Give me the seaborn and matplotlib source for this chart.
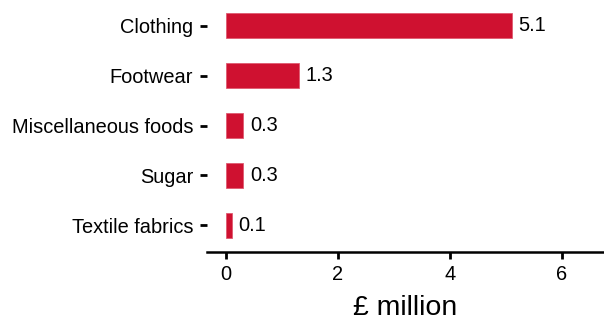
import pandas as pd
import seaborn as sns
import matplotlib.pyplot as plt

# values
categories = ["Clothing", "Footwear", "Miscellaneous foods", "Sugar", "Textile fabrics"]
values = [5.1, 1.3, 0.3, 0.3, 0.1]
x_ticks = [0, 2, 4, 6]

df = pd.DataFrame({"category": categories, "value": values})

sns.set_style("white")
plt.rcParams["font.family"] = ["Liberation Sans", "DejaVu Sans"]
plt.rcParams["text.color"] = "black"
plt.rcParams["xtick.color"] = "black"
plt.rcParams["ytick.color"] = "black"
plt.rcParams["axes.labelcolor"] = "black"

fig = plt.figure(figsize=(6.04, 3.15), dpi=100)
ax = fig.add_axes([207 / 604, 0.2, 1 - 207 / 604, 0.8])

sns.barplot(data=df, x="value", y="category", color="#CF1130", saturation=1,
            width=0.5, ax=ax, edgecolor="#E05A70", linewidth=0.6)

# value labels at bar ends
ax.bar_label(ax.containers[0], labels=[f"{v:.1f}" for v in values],
             padding=5, fontsize=14.4, color="black")

ax.set_xlim(-0.34, 6.75)
ax.set_ylim(4.54, -0.52)
ax.set_xticks(x_ticks)
ax.set_xlabel("£ million", fontsize=20.5, labelpad=8)
ax.set_ylabel("")

for s in ["top", "right", "left"]:
    ax.spines[s].set_visible(False)
ax.spines["bottom"].set_linewidth(1.8)
ax.spines["bottom"].set_color("black")

ax.tick_params(axis="y", length=5, width=2, pad=5, labelsize=14.4, color="black")
ax.tick_params(axis="x", length=5, width=2, pad=4, labelsize=14.4, color="black")
ax.tick_params(left=True, bottom=True)

fig.savefig("out.png", dpi=100)
